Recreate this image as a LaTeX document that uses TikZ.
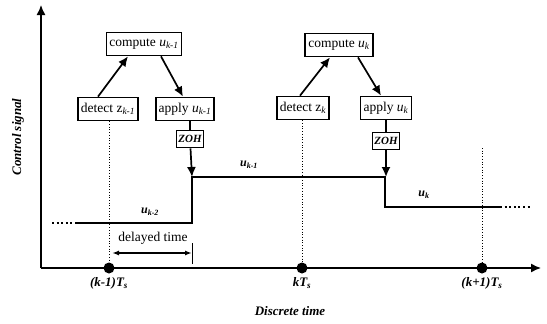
\documentclass[tikz,border=0pt]{standalone}
\usepackage{fontspec}
\setmainfont{Liberation Serif}
\usetikzlibrary{arrows.meta}

\newcommand{\ctl}[1]{\textit{u}\textsubscript{\textit{#1}}}
\newcommand{\evt}[1]{z\textsubscript{\textit{#1}}}

\begin{document}
\begin{tikzpicture}[x=1pt, y=-1pt, >={Latex[length=10pt, width=9pt]},
  font=\fontsize{13.5}{15}\selectfont,
  box/.style={draw, black, line width=0.6mm, inner xsep=3pt, inner ysep=2pt, minimum height=23pt},
  zoh/.style={draw, black, line width=0.6mm, inner sep=2pt, minimum height=17pt, font=\fontsize{11}{12}\selectfont\bfseries\itshape},
  dot/.style={circle, fill=black, inner sep=0pt, minimum size=11pt},
  lbl/.style={font=\fontsize{13}{15}\selectfont\bfseries\itshape},
  sig/.style={font=\fontsize{12}{14}\selectfont\bfseries\itshape}]
\useasboundingbox (0,0) rectangle (547,324);

% axes
\coordinate (orig) at (41,268);
\coordinate (ytop) at (41,5);
\coordinate (xend) at (541,268);
\draw[black, line width=0.5mm, ->](orig)--(ytop);
\draw[black, line width=0.5mm, ->](orig)--(xend);
\node[lbl, rotate=90] (ylab) at (18,137) {Control signal};
\node[lbl] (xlab) at (290,311) {Discrete time};

% sampling instants
\foreach \x/\n/\l in {109/tA/{(k-1)}, 302/tB/{k}, 482/tC/{(k+1)}}{
	\node[dot] (\n) at (\x,268) {};
	\node[lbl, below] (\n lab) at (\x,274) {\l T\textsubscript{s}};
}

% control loop boxes
\node[box] (cmpA) at (144,44) {compute \ctl{k-1}};
\node[box] (detA) at (108,109) {detect \evt{k-1}};
\node[box] (appA) at (185,109) {apply \ctl{k-1}};
\node[zoh] (zohA) at (190,139) {ZOH};
\node[box] (cmpB) at (339,45) {compute \ctl{k}};
\node[box] (detB) at (303,108) {detect \evt{k}};
\node[box] (appB) at (386,108) {apply \ctl{k}};
\node[zoh] (zohB) at (386,141) {ZOH};

\draw[black, line width=0.6mm, ->]([xshift=-10pt]detA.north)--([xshift=-16pt]cmpA.south);
\draw[black, line width=0.6mm, ->]([xshift=17pt]cmpA.south)--([xshift=-2pt]appA.north);
\draw[black, line width=0.6mm, ->]([xshift=-3pt]detB.north)--([xshift=-9pt]cmpB.south);
\draw[black, line width=0.6mm, ->]([xshift=19pt]cmpB.south)--([xshift=-5pt]appB.north);

% control signal (staircase)
\coordinate (lvlA) at (75,223);
\coordinate (jmpA) at (192,177);
\coordinate (jmpB) at (385,207);
\coordinate (lvlC) at (500,207);
\draw[black, line width=1mm](lvlA)--(lvlA -| jmpA)--(jmpA)--(jmpA -| jmpB)--(jmpB)--(lvlC);
\draw[black, line width=2.2pt, dash pattern=on 2pt off 2.6pt](52,223)--(lvlA);
\draw[black, line width=2.2pt, dash pattern=on 2pt off 2.6pt](lvlC)--(531,207);
\node[sig] (uA) at (150,212) {u\textsubscript{k-2}};
\node[sig] (uB) at (249,165) {u\textsubscript{k-1}};
\node[sig] (uC) at (424,195) {u\textsubscript{k}};

% hold outputs
\draw[black, line width=0.5mm](appA.south -| zohA)--(zohA);
\draw[black, line width=0.5mm](appB.south -| zohB)--(zohB);
\draw[black, line width=0.6mm, ->](zohA)--(jmpA);
\draw[black, line width=0.6mm, ->](zohB)--(zohB |- jmpA);

% sample instants
\coordinate (cTop) at (482,148);
\draw[black, line width=0.25mm, dotted](detA.south -| tA)--(tA);
\draw[black, line width=0.25mm, dotted](detB.south -| tB)--(tB);
\draw[black, line width=0.25mm, dotted](cTop)--(tC);

% delay
\coordinate (dlA) at (112,253);
\coordinate (dlB) at (192,253);
\node (dlText) at (153,238) {delayed time};
\draw[black, line width=0.5mm, {Latex[length=7pt, width=5pt]}-{Latex[length=7pt, width=5pt]}](dlA)--(dlB);
\draw[black, line width=0.3mm]([yshift=-11pt]dlB)--([yshift=10pt]dlB);
\end{tikzpicture}
\end{document}
